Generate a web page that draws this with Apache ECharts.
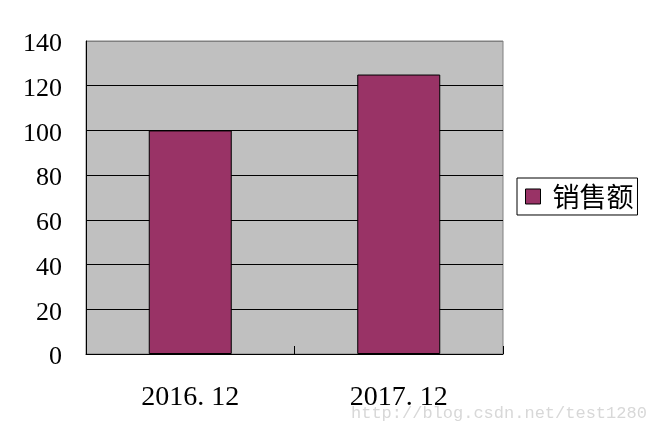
<!DOCTYPE html>
<html><head><meta charset="utf-8">
<script src="https://cdn.jsdelivr.net/npm/echarts@6/dist/echarts.min.js"></script>
<style>html,body{margin:0;padding:0;background:#fff}#c{width:652px;height:436px}</style>
</head><body><div id="c"></div>
<script>
const categories = ['2016. 12', '2017. 12'];
const seriesName = '销售额';
const salesValues = [100, 125];
const yTicks = [0, 20, 40, 60, 80, 100, 120, 140];

const chart = echarts.init(document.getElementById('c'));
const serif = '"Liberation Serif", "DejaVu Serif", serif';
chart.setOption({
  animation: false,
  backgroundColor: '#fff',
  grid: { left: 86, top: 41, width: 417, height: 313, show: true, backgroundColor: '#c0c0c0', borderColor: '#808080', borderWidth: 1 },
  legend: {
    data: [seriesName], orient: 'vertical', left: 517, top: 178,
    backgroundColor: '#fff', borderColor: '#000', borderWidth: 1,
    padding: [5, 4, 5, 8], itemWidth: 15, itemHeight: 15, itemGap: 6,
    icon: 'rect',
    textStyle: { fontSize: 27, color: '#000', fontFamily: '"Noto Sans CJK SC", sans-serif', padding: [0, 0, 0, 7] },
    itemStyle: { borderColor: '#000', borderWidth: 1 }
  },
  xAxis: {
    type: 'category', data: categories,
    axisLine: { lineStyle: { color: '#000', width: 1 } },
    axisTick: { show: true, inside: true, length: 8, lineStyle: { color: '#000' } },
    axisLabel: { fontSize: 28, color: '#000', fontFamily: serif, margin: 30 },
    splitLine: { show: false }
  },
  yAxis: {
    type: 'value', min: yTicks[0], max: yTicks[yTicks.length - 1], interval: 20,
    axisLine: { show: true, lineStyle: { color: '#000', width: 1 } },
    axisTick: { show: false },
    axisLabel: {
      margin: 24,
      formatter: function (v) { return '{a|' + v + '}'; },
      rich: { a: { fontSize: 26, color: '#000', fontFamily: serif, padding: [7, 0, 0, 0] } }
    },
    splitLine: { show: true, lineStyle: { color: ['#000', '#000', '#000', '#000', '#000', '#000', '#000', '#808080'], width: 1 } }
  },
  series: [{
    name: seriesName, type: 'bar', data: salesValues, barWidth: 83,
    itemStyle: { color: '#993366', borderColor: '#000', borderWidth: 1 }
  }],
  graphic: [{
    type: 'text', left: 351, top: 405,
    style: { text: 'http://blog.csdn.net/test1280', fontSize: 17, fontFamily: '"Liberation Mono", monospace', fill: '#d8d8d8' }
  }]
});
</script></body></html>
